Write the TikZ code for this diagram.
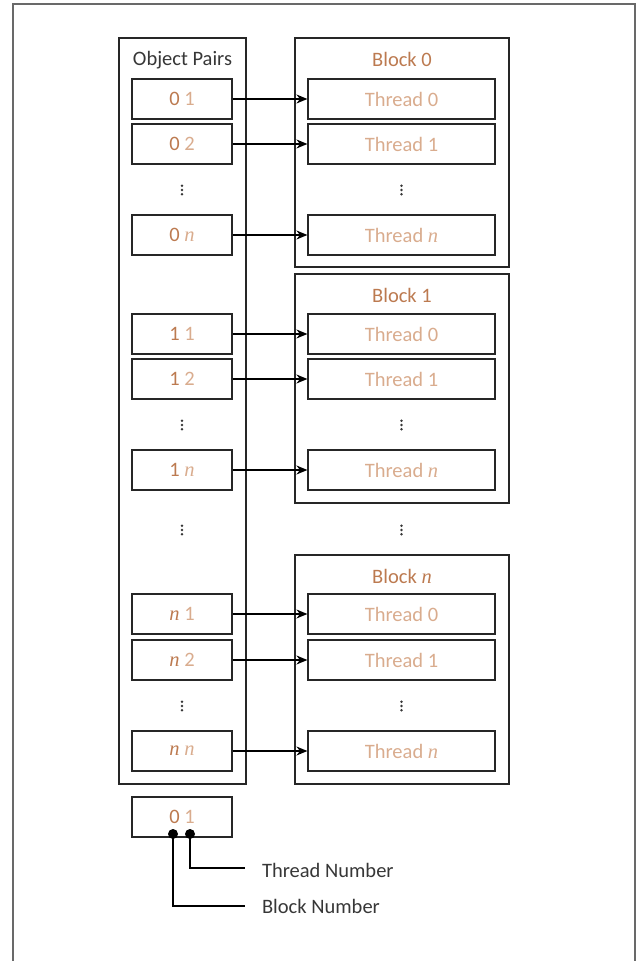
\documentclass[tikz,border=0pt]{standalone}
\usepackage{fontspec}
\setmainfont{Carlito}
\newfontfamily\nfont{Liberation Serif}
\usetikzlibrary{arrows.meta}
\definecolor{blk}{RGB}{188,122,80}
\definecolor{thr}{RGB}{217,172,142}
\definecolor{txt}{RGB}{55,55,55}
\definecolor{edge}{RGB}{105,105,105}
\newcommand\nn{{\nfont\itshape n}}
\begin{document}
\begin{tikzpicture}[x=0.5pt,y=-0.5pt, font=\fontsize{10.25}{12}\selectfont,
  frame/.style={draw=black!85, line width=0.6pt, inner sep=0pt},
  pairbox/.style={frame, minimum width=50pt, minimum height=20pt},
  threadbox/.style={frame, minimum width=93.5pt, minimum height=20pt, text=thr},
  conn/.style={-{Stealth[length=5.5pt,width=4.5pt]}, line width=0.8pt},
  lead/.style={line width=0.8pt},
  dotmark/.style={fill=txt},
  pin/.style={circle, fill=black, inner sep=0pt, minimum size=5pt}]
\useasboundingbox (0,0) rectangle (638,961);
% outer frame
\draw[edge, line width=1pt] (13,961) -- (13,4) -- (635,4) -- (635,961);
% containers
\node[frame, minimum width=63.5pt, minimum height=373pt] (op) at (182.5,411) {};
\node[text=txt] (oplab) at (182.5,60) {Object Pairs};
\node[frame, minimum width=107pt, minimum height=114.5pt] (b0) at (402,152.5) {};
\node[frame, minimum width=107pt, minimum height=114.5pt] (b1) at (402,388.5) {};
\node[frame, minimum width=107pt, minimum height=114.5pt] (bn) at (402,669.5) {};
\node[text=blk] (b0lab) at (402,59) {Block 0};
\node[text=blk] (b1lab) at (402,295) {Block 1};
\node[text=blk] (bnlab) at (402,576) {Block \nn};
% rows
\foreach \nm/\y/\a/\b/\t in {01/99/0/1/0, 02/144/0/2/1, 0n/235/0/\nn/\nn,
  11/334/1/1/0, 12/379/1/2/1, 1n/470/1/\nn/\nn,
  n1/614/\nn/1/0, n2/660/\nn/2/1, nn/751/\nn/\nn/\nn}{
  \node[pairbox] (p\nm) at (182,\y) {{\color{blk}\a} {\color{thr}\b}};
  \node[threadbox] (t\nm) at (401.5,\y) {Thread \t};
  \draw[conn] (p\nm.east) -- (t\nm.west);
}
% vertical dots
\foreach \x/\y in {182/190, 401.5/190, 182/425, 401.5/425,
  182/530, 401.5/530, 182/706, 401.5/706}{
  \fill[dotmark] (\x,\y-4.2) circle (1.4) (\x,\y) circle (1.4) (\x,\y+4.2) circle (1.4);
}
% legend
\node[pairbox] (leg) at (182,817) {{\color{blk}0} {\color{thr}1}};
\node[pin] (pb) at (173,834) {};
\node[pin] (pt) at (190,834) {};
\coordinate (ct) at (245,868);
\coordinate (cb) at (245,906);
\draw[lead] (pt.center) |- (ct);
\draw[lead] (pb.center) |- (cb);
\node[text=txt, anchor=west] (tn) at (255,870) {Thread Number};
\node[text=txt, anchor=west] (bn2) at (255,906) {Block Number};
\end{tikzpicture}
\end{document}
